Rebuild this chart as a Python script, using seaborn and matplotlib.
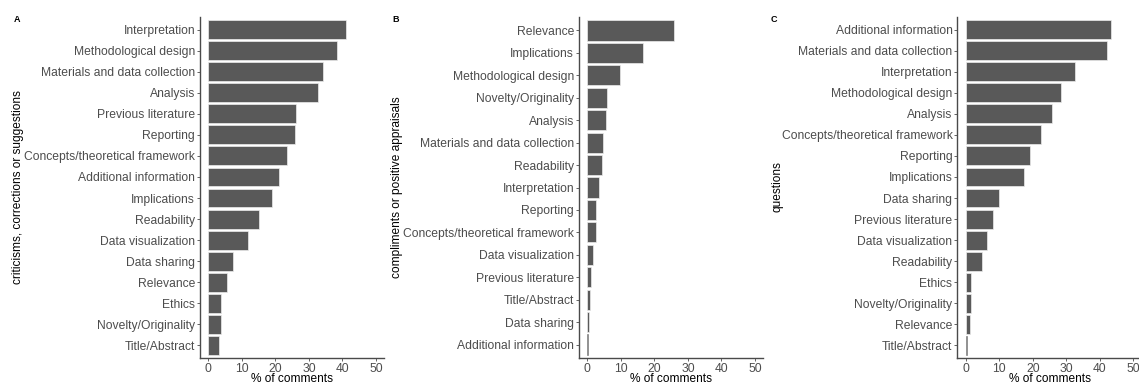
import matplotlib
matplotlib.use("Agg")
import matplotlib.pyplot as plt
import seaborn as sns
import pandas as pd

# Share of reviewer comments (%) by topic, for three comment types
crit_topics = ["Interpretation", "Methodological design", "Materials and data collection",
               "Analysis", "Previous literature", "Reporting",
               "Concepts/theoretical framework", "Additional information", "Implications",
               "Readability", "Data visualization", "Data sharing", "Relevance",
               "Ethics", "Novelty/Originality", "Title/Abstract"]
crit_values = [41.1, 38.4, 34.1, 32.7, 26.2, 25.9, 23.4, 21.0, 19.1,
               15.1, 11.7, 7.5, 5.6, 3.8, 3.7, 3.2]

comp_topics = ["Relevance", "Implications", "Methodological design", "Novelty/Originality",
               "Analysis", "Materials and data collection", "Readability", "Interpretation",
               "Reporting", "Concepts/theoretical framework", "Data visualization",
               "Previous literature", "Title/Abstract", "Data sharing",
               "Additional information"]
comp_values = [25.8, 16.7, 9.7, 6.0, 5.6, 4.8, 4.3, 3.6,
               2.5, 2.5, 1.8, 1.1, 0.9, 0.6, 0.3]

ques_topics = ["Additional information", "Materials and data collection", "Interpretation",
               "Methodological design", "Analysis", "Concepts/theoretical framework",
               "Reporting", "Implications", "Data sharing", "Previous literature",
               "Data visualization", "Readability", "Ethics", "Novelty/Originality",
               "Relevance", "Title/Abstract"]
ques_values = [43.2, 42.1, 32.7, 28.4, 25.6, 22.4, 19.2, 17.4, 9.9, 8.1,
               6.3, 4.8, 1.7, 1.5, 1.3, 0.3]

panel_letters = ["A", "B", "C"]
y_titles = ["criticisms, corrections or suggestions",
            "compliments or positive appraisals", "questions"]
x_title = "% of comments"
x_ticks = [0, 10, 20, 30, 40, 50]

sns.set_theme(style="white")
plt.rcParams["font.family"] = ["Liberation Sans", "DejaVu Sans"]

W, H = 1139, 385
fig = plt.figure(figsize=(W / 100, H / 100), dpi=100)

tick_grey = "#4D4D4D"
line_grey = "#4a4a4a"
bar_grey = "#595959"

panels = [
    (crit_topics, crit_values, 199.9, 184.5, 16.7, 18),
    (comp_topics, comp_values, 578.9, 184.5, 396.0, 397),
    (ques_topics, ques_values, 957.3, 184.5, 774.0, 777),
]

ax_top, ax_bot = 17, 358
for i, (topics, values, left, width, letter_x, ytitle_x) in enumerate(panels):
    ax = fig.add_axes([left / W, 1 - ax_bot / H, width / W, (ax_bot - ax_top) / H])
    df = pd.DataFrame({"topic": topics, "pct": values})
    sns.barplot(data=df, x="pct", y="topic", order=topics, orient="h",
                color=bar_grey, saturation=1, width=0.9,
                edgecolor="#ececec", linewidth=0.5, ax=ax)
    # very short bars get a grey outline so they stay visible as thin strokes
    for patch in ax.patches:
        if patch.get_width() < 0.5:
            patch.set_edgecolor("#8a8a8a")
    ax.set_xlim(-2.5, 52.5)
    n = len(topics)
    ax.set_ylim(n - 1 + 0.6, -0.6)
    ax.set_xticks(x_ticks)
    ax.set_xticklabels([str(t) for t in x_ticks])
    ax.tick_params(axis="both", which="both", length=2.5, width=0.6,
                   color=line_grey, labelcolor=tick_grey, labelsize=8.7, pad=1,
                   left=True, bottom=True)
    for side in ["top", "right"]:
        ax.spines[side].set_visible(False)
    for side in ["left", "bottom"]:
        ax.spines[side].set_color(line_grey)
        ax.spines[side].set_linewidth(1.0)
    ax.set_ylabel("")
    ax.set_xlabel(x_title, fontsize=8.6, color="black", labelpad=-1.5)
    fig.text(ytitle_x / W, 1 - 187 / H, y_titles[i], rotation=90,
             ha="center", va="center", fontsize=8.6, color="black")
    fig.text(letter_x / W, 1 - 20 / H, panel_letters[i], ha="center", va="center",
             fontsize=6.5, fontweight="bold", color="black")

fig.savefig("out.png", dpi=100)
